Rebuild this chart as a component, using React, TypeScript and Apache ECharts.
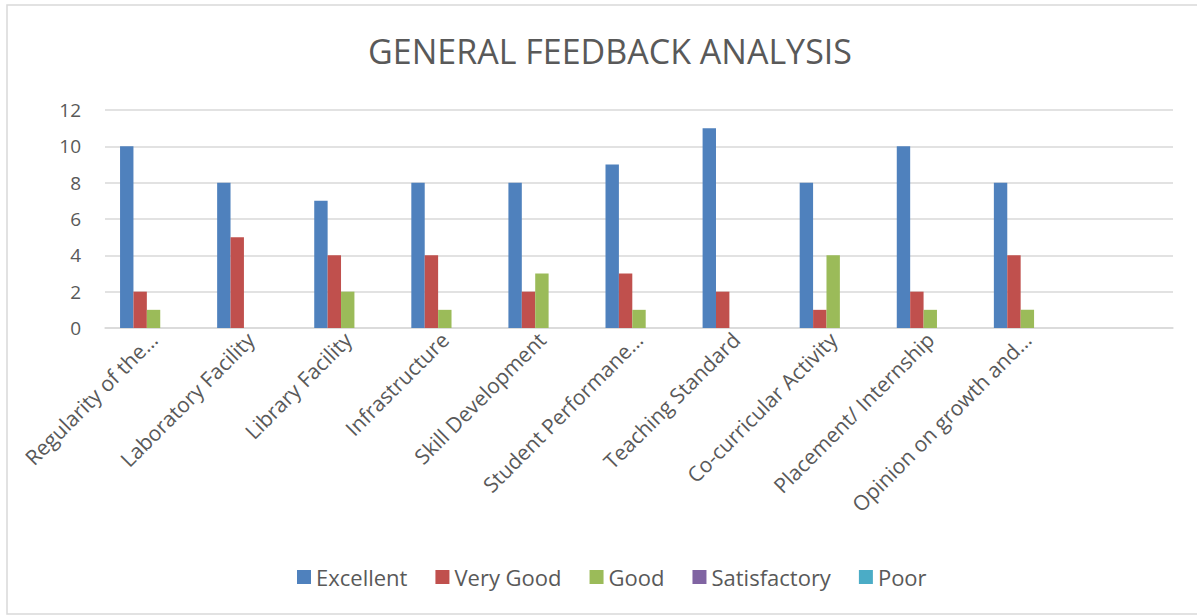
import React, { useEffect, useRef } from "react";
import * as echarts from "echarts";

const categories = [
  "Regularity of the…",
  "Laboratory Facility",
  "Library Facility",
  "Infrastructure",
  "Skill Development",
  "Student Performane…",
  "Teaching Standard",
  "Co-curricular Activity",
  "Placement/ Internship",
  "Opinion on growth and…",
  "",
];
const excellent = [10, 8, 7, 8, 8, 9, 11, 8, 10, 8];
const veryGood = [2, 5, 4, 4, 2, 3, 2, 1, 2, 4];
const good = [1, 0, 2, 1, 3, 1, 0, 4, 1, 1];
const satisfactory = [0, 0, 0, 0, 0, 0, 0, 0, 0, 0];
const poor = [0, 0, 0, 0, 0, 0, 0, 0, 0, 0];
const seriesNames = ["Excellent", "Very Good", "Good", "Satisfactory", "Poor"];
const colors = ["#4F81BD", "#C0504D", "#9BBB59", "#8064A2", "#4BACC6"];
const yTicks = { min: 0, max: 12, interval: 2 };

export default function App() {
  const ref = useRef<HTMLDivElement>(null);
  useEffect(() => {
    if (!ref.current) return;
    const chart = echarts.init(ref.current, null, { renderer: "svg" });
    const font = "'Open Sans', 'Noto Sans', sans-serif";
    const textColor = "#595959";
    const values = [excellent, veryGood, good, satisfactory, poor];
    chart.setOption({
      animation: false,
      backgroundColor: "#ffffff",
      color: colors,
      title: {
        text: "GENERAL FEEDBACK ANALYSIS",
        left: 605,
        textAlign: "center",
        top: 29,
        textStyle: { fontFamily: font, fontSize: 34, fontWeight: "normal", color: textColor },
      },
      graphic: [
        {
          type: "rect",
          shape: { x: 7, y: 5, width: 1200, height: 609 },
          style: { fill: "none", stroke: "#d9d9d9", lineWidth: 1.5 },
          silent: true,
        },
      ],
      legend: {
        top: 561,
        left: 292,
        itemWidth: 14,
        itemHeight: 14,
        itemGap: 28,
        icon: "rect",
        textStyle: { fontFamily: font, fontSize: 22, color: textColor },
        data: seriesNames,
      },
      grid: { left: 105, right: 24, top: 110, bottom: 287, containLabel: false },
      xAxis: {
        type: "category",
        data: categories,
        axisTick: { show: false },
        axisLine: { lineStyle: { color: "#d9d9d9", width: 1.5 } },
        axisLabel: {
          interval: 0,
          rotate: 45,
          margin: 8,
          fontFamily: font,
          fontSize: 21,
          color: textColor,
        },
      },
      yAxis: {
        type: "value",
        min: yTicks.min,
        max: yTicks.max,
        interval: yTicks.interval,
        axisLine: { show: false },
        axisTick: { show: false },
        splitLine: { lineStyle: { color: "#d9d9d9", width: 1.5 } },
        axisLabel: { fontFamily: font, fontSize: 19, color: textColor, margin: 24 },
      },
      series: seriesNames.map((name, i) => ({
        name,
        type: "bar",
        data: values[i],
        barGap: "0%",
        barCategoryGap: "31%",
        itemStyle: { color: colors[i] },
      })),
    });
    return () => chart.dispose();
  }, []);
  return (
    <div
      ref={ref}
      style={{ position: "absolute", left: 0, top: 0, width: 1197, height: 615 }}
    />
  );
}
